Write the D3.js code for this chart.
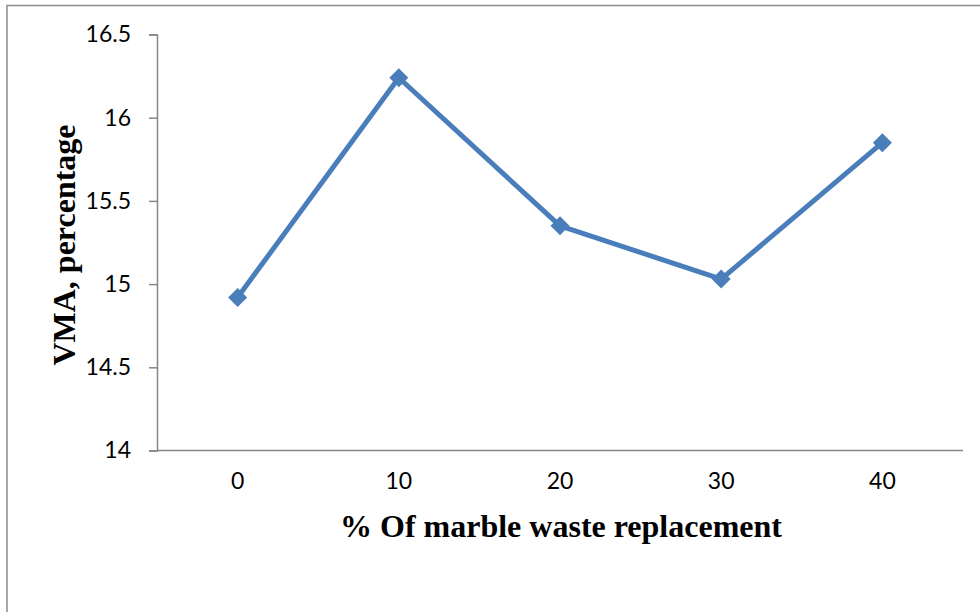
<!DOCTYPE html>
<html>
<head>
<meta charset="utf-8">
<script src="https://cdn.jsdelivr.net/npm/d3@7"></script>
<style>
  html, body { margin: 0; padding: 0; background: #fff; }
  svg { display: block; }
</style>
</head>
<body>
<svg id="chart" width="980" height="612"></svg>
<script>
const categories = ["0", "10", "20", "30", "40"];
const values = [14.92, 16.24, 15.35, 15.03, 15.85];
const yTicks = [14, 14.5, 15, 15.5, 16, 16.5];
const xTitle = "% Of marble waste replacement";
const yTitle = "VMA, percentage";

const svg = d3.select("#chart");
const W = 980, H = 612;
const plot = { left: 157, right: 963, top: 34.5, bottom: 450.5 };

// outer border
svg.append("rect")
  .attr("x", 7).attr("y", 5.5)
  .attr("width", W + 20).attr("height", H + 20)
  .attr("fill", "none").attr("stroke", "#8a8a8a").attr("stroke-width", 1.5);

const x = d3.scaleBand().domain(categories).range([plot.left, plot.right]);
const y = d3.scaleLinear().domain([14, 16.5]).range([plot.bottom, plot.top]);

// y axis
const yAxis = svg.append("g")
  .attr("transform", `translate(${plot.left},0)`)
  .call(d3.axisLeft(y).tickValues(yTicks).tickSize(8).tickPadding(18)
    .tickFormat(d => String(d)));
yAxis.select(".domain").attr("stroke", "#868686").attr("stroke-width", 1.5);
yAxis.selectAll(".tick line").attr("stroke", "#868686").attr("stroke-width", 1.5);
yAxis.selectAll(".tick text")
  .attr("font-family", "Lato, 'Open Sans', sans-serif")
  .attr("font-size", 23).attr("fill", "#000");

// x axis
const xAxis = svg.append("g")
  .attr("transform", `translate(0,${plot.bottom})`)
  .call(d3.axisBottom(x).tickSize(0).tickPadding(22));
xAxis.select(".domain").attr("stroke", "#868686").attr("stroke-width", 1.5)
  .attr("d", `M${plot.left},0H${plot.right}`);
xAxis.selectAll(".tick text")
  .attr("font-family", "Lato, 'Open Sans', sans-serif")
  .attr("font-size", 23).attr("fill", "#000");

const cx = (d, i) => x(categories[i]) + x.bandwidth() / 2;

// line
svg.append("path")
  .datum(values)
  .attr("fill", "none")
  .attr("stroke", "#4a7ebb")
  .attr("stroke-width", 5)
  .attr("stroke-linejoin", "round")
  .attr("d", d3.line().x((d, i) => cx(d, i)).y(d => y(d)));

// markers
svg.append("g").selectAll("path")
  .data(values)
  .join("path")
  .attr("transform", (d, i) => `translate(${cx(d, i)},${y(d)})`)
  .attr("d", "M0,-9.5L9.5,0L0,9.5L-9.5,0Z")
  .attr("fill", "#4a7ebb");

// titles
svg.append("text")
  .attr("x", (plot.left + plot.right) / 2 + 1)
  .attr("y", 537)
  .attr("text-anchor", "middle")
  .attr("font-family", "'Liberation Serif', 'Times New Roman', serif")
  .attr("font-weight", "bold")
  .attr("font-size", 32)
  .attr("fill", "#000")
  .text(xTitle);

svg.append("text")
  .attr("transform", "translate(75,245) rotate(-90)")
  .attr("text-anchor", "middle")
  .attr("font-family", "'Liberation Serif', 'Times New Roman', serif")
  .attr("font-weight", "bold")
  .attr("font-size", 32)
  .attr("fill", "#000")
  .text(yTitle);
</script>
</body>
</html>
